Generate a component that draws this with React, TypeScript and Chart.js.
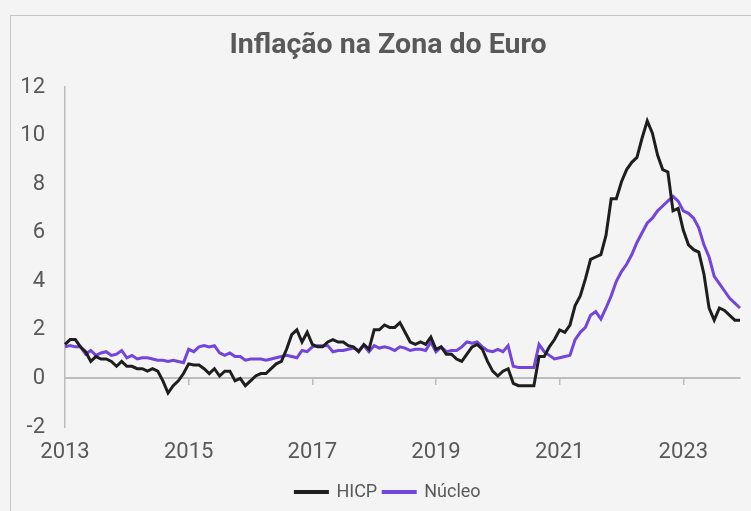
import React, { useEffect, useRef } from 'react';
import { Chart, registerables } from 'chart.js';

Chart.register(...registerables);

// First month of the series (May 2013), monthly data through April 2024
const START_YEAR = 2013;
const START_MONTH = 5;
const YEAR_LABEL_EVERY = 24; // one year label every 24 months

const hicp: number[] = [
  // 2013 (May-Dec)
  1.4, 1.6, 1.6, 1.3, 1.1, 0.7, 0.9, 0.8,
  // 2014
  0.8, 0.7, 0.5, 0.7, 0.5, 0.5, 0.4, 0.4, 0.3, 0.4, 0.3, -0.1,
  // 2015
  -0.6, -0.3, -0.1, 0.2, 0.6, 0.55, 0.55, 0.4, 0.2, 0.4, 0.1, 0.3,
  // 2016
  0.3, -0.1, 0.0, -0.3, -0.1, 0.1, 0.2, 0.2, 0.4, 0.6, 0.7, 1.2,
  // 2017
  1.8, 2.0, 1.5, 1.9, 1.4, 1.3, 1.3, 1.5, 1.6, 1.5, 1.5, 1.35,
  // 2018
  1.3, 1.1, 1.4, 1.2, 2.0, 2.0, 2.2, 2.1, 2.1, 2.3, 1.9, 1.5,
  // 2019
  1.4, 1.5, 1.4, 1.7, 1.2, 1.3, 1.0, 1.0, 0.8, 0.7, 1.0, 1.3,
  // 2020
  1.4, 1.2, 0.7, 0.3, 0.1, 0.3, 0.4, -0.2, -0.3, -0.3, -0.3, -0.3,
  // 2021
  0.9, 0.9, 1.3, 1.6, 2.0, 1.9, 2.2, 3.0, 3.4, 4.1, 4.9, 5.0,
  // 2022
  5.1, 5.9, 7.4, 7.4, 8.1, 8.6, 8.9, 9.1, 9.9, 10.6, 10.1, 9.2,
  // 2023
  8.6, 8.5, 6.9, 7.0, 6.1, 5.5, 5.3, 5.2, 4.3, 2.9, 2.4, 2.9,
  // 2024 (Jan-Apr)
  2.8, 2.6, 2.4, 2.4,
];

const nucleo: number[] = [
  // 2013 (May-Dec)
  1.3, 1.35, 1.3, 1.3, 1.0, 1.15, 0.95, 1.05,
  // 2014
  1.1, 0.95, 1.0, 1.15, 0.85, 0.95, 0.8, 0.85, 0.85, 0.8, 0.75, 0.75,
  // 2015
  0.7, 0.75, 0.7, 0.65, 1.2, 1.1, 1.3, 1.35, 1.3, 1.35, 1.05, 0.95,
  // 2016
  1.05, 0.9, 0.9, 0.75, 0.8, 0.8, 0.8, 0.75, 0.8, 0.85, 0.9, 0.95,
  // 2017
  0.9, 0.85, 1.15, 1.1, 1.3, 1.35, 1.35, 1.35, 1.1, 1.15, 1.15, 1.2,
  // 2018
  1.25, 1.15, 1.35, 1.1, 1.35, 1.25, 1.3, 1.25, 1.15, 1.3, 1.25, 1.15,
  // 2019
  1.2, 1.2, 1.15, 1.5, 1.1, 1.3, 1.1, 1.15, 1.15, 1.3, 1.5, 1.45,
  // 2020
  1.5, 1.3, 1.15, 1.1, 1.2, 1.1, 1.35, 0.5, 0.45, 0.45, 0.45, 0.45,
  // 2021
  1.4, 1.1, 0.95, 0.8, 0.85, 0.9, 0.95, 1.6, 1.9, 2.1, 2.6, 2.75,
  // 2022
  2.45, 2.9, 3.4, 4.0, 4.4, 4.7, 5.1, 5.6, 6.0, 6.4, 6.6, 6.9,
  // 2023
  7.1, 7.3, 7.5, 7.3, 6.9, 6.8, 6.6, 6.2, 5.5, 5.0, 4.2, 3.9,
  // 2024 (Jan-Apr)
  3.6, 3.3, 3.1, 2.9,
];

const months: string[] = hicp.map((_, i) => {
  const m = START_MONTH - 1 + i;
  const y = START_YEAR + Math.floor(m / 12);
  return `${y}-${String((m % 12) + 1).padStart(2, '0')}`;
});

const Y_MIN = -2;
const Y_MAX = 12;
const Y_STEP = 2;

const TITLE = 'Inflação na Zona do Euro';
const TEXT_COLOR = '#595959';
const AXIS_COLOR = '#bdbdbd';
const HICP_COLOR = '#1e1e1e';
const NUCLEO_COLOR = '#7245dc';

export default function App() {
  const canvasRef = useRef<HTMLCanvasElement>(null);

  useEffect(() => {
    const canvas = canvasRef.current;
    if (!canvas) return;
    const chart = new Chart(canvas, {
      type: 'line',
      data: {
        labels: months,
        datasets: [
          {
            label: 'HICP',
            data: hicp,
            borderColor: HICP_COLOR,
            backgroundColor: HICP_COLOR,
            borderWidth: 3,
            pointRadius: 0,
            tension: 0,
            xAxisID: 'x',
            yAxisID: 'y',
          },
          {
            label: 'Núcleo',
            data: nucleo,
            borderColor: NUCLEO_COLOR,
            backgroundColor: NUCLEO_COLOR,
            borderWidth: 3,
            pointRadius: 0,
            tension: 0,
            xAxisID: 'x',
            yAxisID: 'y',
          },
        ],
      },
      options: {
        responsive: false,
        animation: false,
        events: [],
        layout: { padding: { left: 10, right: -15, top: 0, bottom: 0 } },
        plugins: {
          title: {
            display: true,
            text: TITLE,
            color: TEXT_COLOR,
            font: { family: 'Roboto', size: 28.5, weight: 'bold' },
            padding: { top: 28.9, bottom: 23.9 },
          },
          legend: {
            position: 'bottom',
            labels: {
              boxWidth: 32,
              boxHeight: 1,
              padding: 6,
              color: TEXT_COLOR,
              font: { family: 'Roboto', size: 18 },
            },
          },
          tooltip: { enabled: false },
        },
        scales: {
          x: {
            type: 'category',
            grid: { display: false, drawTicks: false },
            border: { display: false },
            ticks: {
              autoSkip: false,
              maxRotation: 0,
              minRotation: 0,
              padding: 11.8,
              color: TEXT_COLOR,
              font: { family: 'Roboto', size: 22 },
              callback: (_v: any, i: number) =>
                i % YEAR_LABEL_EVERY === 0 ? months[i].slice(0, 4) : null,
            },
          },
          x2: {
            type: 'category',
            position: { y: 0 },
            display: true,
            grid: {
              drawOnChartArea: false,
              drawTicks: true,
              tickLength: 6,
              lineWidth: 1.5,
              color: (ctx: any) =>
                ctx.index % YEAR_LABEL_EVERY === 0 && ctx.index > 0 ? AXIS_COLOR : 'rgba(0,0,0,0)',
            },
            border: { display: true, color: AXIS_COLOR, width: 2 },
            ticks: { display: false, autoSkip: false },
          },
          y: {
            position: 'left',
            min: Y_MIN,
            max: Y_MAX,
            ticks: {
              stepSize: Y_STEP,
              padding: 20,
              color: TEXT_COLOR,
              font: { family: 'Roboto', size: 22 },
            },
            grid: { display: false, drawTicks: false },
            border: { display: true, color: AXIS_COLOR, width: 1.5 },
            afterFit: (scale: any) => {
              scale.width = 55;
            },
          },
          yRight: {
            type: 'linear',
            position: 'right',
            display: true,
            grid: { display: false, drawTicks: false },
            border: { display: false },
            ticks: { display: false },
            afterFit: (scale: any) => {
              scale.width = 26;
            },
          },
        },
      } as any,
    });
    return () => chart.destroy();
  }, []);

  return (
    <div
      style={{
        position: 'fixed',
        left: 0,
        top: 0,
        width: 751,
        height: 511,
        background: '#f4f4f4',
        overflow: 'hidden',
      }}
    >
      <div
        style={{
          position: 'absolute',
          left: 10,
          top: 15,
          width: 800,
          height: 600,
          border: '1.5px solid #c6c6c6',
          boxSizing: 'border-box',
        }}
      />
      <canvas
        ref={canvasRef}
        width={751}
        height={511}
        style={{ position: 'absolute', left: 0, top: 0, width: 751, height: 511 }}
      />
    </div>
  );
}
